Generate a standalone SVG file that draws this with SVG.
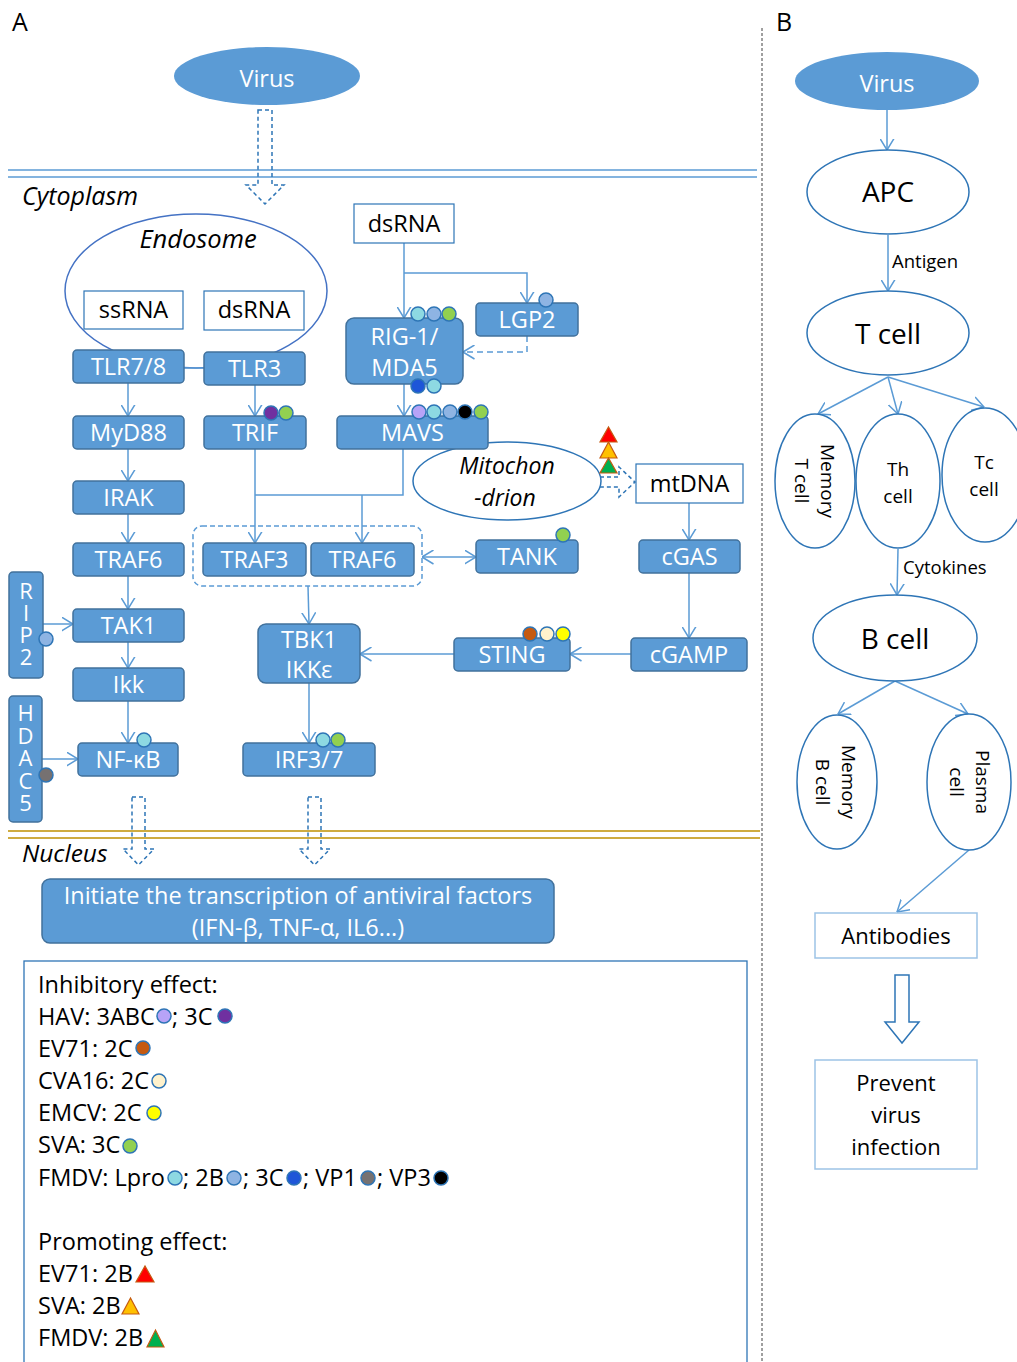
<svg xmlns="http://www.w3.org/2000/svg" width="1017" height="1362" viewBox="0 0 1017 1362">
<defs>
<style>
text{font-family:"Open Sans","Noto Sans",sans-serif;}
.n rect{fill:#5B9BD5;stroke:#41719C;stroke-width:1.5;}
.n text,.wt{fill:#fff;font-size:23.5px;text-anchor:middle;}
.vt{fill:#fff;font-size:22px;writing-mode:vertical-rl;text-orientation:upright;}
.w rect{fill:#fff;stroke:#2E75B6;stroke-width:1.2;}
.w text{fill:#000;font-size:23.5px;text-anchor:middle;}
.c{stroke:#5B9BD5;stroke-width:1.5;fill:none;}
.a{marker-end:url(#ah);}
.hol{fill:none;stroke:#2E75B6;stroke-width:1.5;stroke-dasharray:4 3;}
.d{stroke:#2E75B6;stroke-width:1.5;}
.el{fill:#fff;stroke:#2E75B6;stroke-width:1.5;}
.bt{fill:#000;text-anchor:middle;}
.lg{fill:#000;font-size:23.5px;}
.it{font-style:italic;fill:#000;}
.tri{stroke:#C55A11;stroke-width:1.2;}
</style>
<marker id="ah" viewBox="0 0 12 15" refX="11.5" refY="7.5" markerWidth="12" markerHeight="15" markerUnits="userSpaceOnUse" orient="auto-start-reverse">
<path d="M0,0.5 L11.5,7.5 L0,14.5" fill="none" stroke="#5B9BD5" stroke-width="1.5"/>
</marker>
</defs>
<rect width="1017" height="1362" fill="#fff"/>

<!-- Panel labels and compartments -->
<text x="12" y="31" font-size="25" fill="#000">A</text>
<text x="776" y="31" font-size="25" fill="#000">B</text>
<line x1="762" y1="28" x2="762" y2="1362" stroke="#404040" stroke-width="1" stroke-dasharray="3 2"/>
<line x1="8" y1="170" x2="757" y2="170" stroke="#5B9BD5" stroke-width="1.5"/>
<line x1="8" y1="177" x2="757" y2="177" stroke="#5B9BD5" stroke-width="1.5"/>
<line x1="8" y1="831" x2="760" y2="831" stroke="#BF9000" stroke-width="1.5"/>
<line x1="8" y1="838" x2="760" y2="838" stroke="#BF9000" stroke-width="1.5"/>
<text class="it" x="22" y="205" font-size="25">Cytoplasm</text>
<text class="it" x="22" y="862" font-size="24.5">Nucleus</text>

<!-- Endosome -->
<g id="endosome">
<ellipse cx="196" cy="291" rx="131" ry="77" fill="none" stroke="#4472C4" stroke-width="1.5"/>
<text class="it" x="198" y="248" font-size="25.5" text-anchor="middle">Endosome</text>
</g>

<!-- Virus A -->
<g id="virusA">
<ellipse cx="267" cy="76" rx="93" ry="29" fill="#5B9BD5"/>
<text class="wt" x="267" y="87" font-size="30">Virus</text>
</g>

<!-- hollow dashed arrows -->
<g id="hollow-arrows">
<path class="hol" d="M258,110 L272,110 L272,185 L284,185 L265,204 L246,185 L258,185 Z"/>
<path class="hol" d="M132,797 L145,797 L145,849 L154,849 L138.5,865 L123,849 L132,849 Z"/>
<path class="hol" d="M308,797 L321,797 L321,849 L330,849 L314.5,865 L299,849 L308,849 Z"/>
<path class="hol" d="M593,477 L619,477 L619,467 L635,482 L619,497 L619,487 L593,487 Z"/>
<path d="M895,975 L909,975 L909,1022 L919,1022 L902,1043 L885,1022 L895,1022 Z" fill="none" stroke="#2E75B6" stroke-width="1.5"/>
</g>

<!-- Connectors -->
<g id="connectors">
<path class="c a" d="M128,383 L128,416"/>
<path class="c a" d="M128,449 L128,481"/>
<path class="c a" d="M128,514 L128,543"/>
<path class="c a" d="M128,576 L128,609"/>
<path class="c a" d="M128,642 L128,668"/>
<path class="c a" d="M128,701 L128,743"/>
<path class="c a" d="M43,624 L73,624"/>
<path class="c a" d="M42,759 L78,759"/>
<path class="c" d="M184,368 L204,368"/>
<path class="c a" d="M255,385 L255,416"/>
<path class="c a" d="M255,449 L255,543"/>
<path class="c" d="M403,449 L403,495 L255,495"/>
<path class="c a" d="M362,495 L362,543"/>
<path class="c a" d="M404,243 L404,318"/>
<path class="c a" d="M404,273 L527,273 L527,303"/>
<path class="c a" d="M527,336 L527,352 L463,352" stroke-dasharray="6 4"/>
<path class="c a" d="M404,384 L404,416"/>
<path class="c a" d="M422,557 L476,557" marker-start="url(#ah)"/>
<path class="c a" d="M308,586 L309,624"/>
<path class="c a" d="M454,654 L360,654"/>
<path class="c a" d="M631,654 L570,654"/>
<path class="c a" d="M689,503 L689,540"/>
<path class="c a" d="M689,573 L689,638"/>
<path class="c a" d="M309,683 L309,743"/>
<rect x="193" y="526" width="229" height="60" rx="9" fill="none" stroke="#5B9BD5" stroke-width="1.5" stroke-dasharray="5 3"/>
<!-- panel B -->
<path class="c a" d="M887,110 L887,150"/>
<path class="c a" d="M888,235 L888,291"/>
<path class="c a" d="M888,377 L818,414"/>
<path class="c a" d="M888,377 L898,414"/>
<path class="c a" d="M888,377 L984,407"/>
<path class="c a" d="M898,549 L897,595"/>
<path class="c a" d="M895,681 L838,714"/>
<path class="c a" d="M895,681 L968,714"/>
<path class="c a" d="M969,850 L897,912"/>
<text x="892" y="268" font-size="18.5" fill="#000">Antigen</text>
<text x="903" y="574" font-size="18.5" fill="#000">Cytokines</text>
</g>

<!-- White boxes -->
<g id="ssRNA" class="w"><rect x="84" y="291" width="99" height="38"/><text x="133.5" y="318">ssRNA</text></g>
<g id="dsRNA-endo" class="w"><rect x="204" y="291" width="100" height="39"/><text x="254" y="318">dsRNA</text></g>
<g id="dsRNA" class="w"><rect x="354" y="204" width="100" height="39"/><text x="404" y="232">dsRNA</text></g>
<g id="mtDNA" class="w"><rect x="636" y="464" width="107" height="39"/><text x="689.5" y="492">mtDNA</text></g>

<!-- Mitochondrion -->
<g id="mitochondrion">
<ellipse class="el" cx="507" cy="481" rx="94" ry="39"/>
<text class="it" x="507" y="474" font-size="23" text-anchor="middle">Mitochon</text>
<text class="it" x="505" y="506" font-size="23" text-anchor="middle">-drion</text>
</g>

<!-- Blue nodes -->
<g id="TLR78" class="n"><rect x="73" y="350" width="111" height="33" rx="4"/><text x="128.5" y="375">TLR7/8</text></g>
<g id="TLR3" class="n"><rect x="204" y="352" width="101" height="33" rx="4"/><text x="254.5" y="377">TLR3</text></g>
<g id="MyD88" class="n"><rect x="73" y="416" width="111" height="33" rx="4"/><text x="128.5" y="441">MyD88</text></g>
<g id="TRIF" class="n"><rect x="204" y="416" width="102" height="33" rx="4"/><text x="255" y="441">TRIF</text></g>
<g id="IRAK" class="n"><rect x="73" y="481" width="111" height="33" rx="4"/><text x="128.5" y="506">IRAK</text></g>
<g id="TRAF6a" class="n"><rect x="73" y="543" width="111" height="33" rx="4"/><text x="128.5" y="568">TRAF6</text></g>
<g id="TAK1" class="n"><rect x="73" y="609" width="111" height="33" rx="4"/><text x="128.5" y="634">TAK1</text></g>
<g id="Ikk" class="n"><rect x="73" y="668" width="111" height="33" rx="4"/><text x="128.5" y="693">Ikk</text></g>
<g id="NFkB" class="n"><rect x="78" y="743" width="100" height="33" rx="4"/><text x="128" y="768">NF-κB</text></g>
<g id="RIP2"><rect x="9" y="572" width="34" height="106" rx="4" fill="#5B9BD5" stroke="#41719C" stroke-width="1.5"/><text class="vt" x="26" y="575" letter-spacing="-8">RIP2</text></g>
<g id="HDAC5"><rect x="9" y="696" width="33" height="126" rx="4" fill="#5B9BD5" stroke="#41719C" stroke-width="1.5"/><text class="vt" x="25.5" y="697" letter-spacing="-7.5">HDAC5</text></g>
<g id="TRAF3" class="n"><rect x="203" y="543" width="103" height="33" rx="4"/><text x="254.5" y="568">TRAF3</text></g>
<g id="TRAF6b" class="n"><rect x="311" y="543" width="103" height="33" rx="4"/><text x="362.5" y="568">TRAF6</text></g>
<g id="TBK1" class="n"><rect x="258" y="624" width="102" height="59" rx="8"/><text x="309" y="648">TBK1</text><text x="309" y="678">IKKε</text></g>
<g id="IRF37" class="n"><rect x="243" y="743" width="132" height="33" rx="4"/><text x="309" y="768">IRF3/7</text></g>
<g id="RIG1" class="n"><rect x="346" y="318" width="117" height="66" rx="8"/><text x="404.5" y="345">RIG-1/</text><text x="404.5" y="376">MDA5</text></g>
<g id="LGP2" class="n"><rect x="476" y="303" width="102" height="33" rx="4"/><text x="527" y="328">LGP2</text></g>
<g id="MAVS" class="n"><rect x="337" y="416" width="151" height="33" rx="4"/><text x="412.5" y="441">MAVS</text></g>
<g id="TANK" class="n"><rect x="476" y="540" width="102" height="33" rx="4"/><text x="527" y="565">TANK</text></g>
<g id="cGAS" class="n"><rect x="639" y="540" width="101" height="33" rx="4"/><text x="689.5" y="565">cGAS</text></g>
<g id="cGAMP" class="n"><rect x="631" y="638" width="116" height="33" rx="4"/><text x="689" y="663">cGAMP</text></g>
<g id="STING" class="n"><rect x="454" y="638" width="116" height="33" rx="4"/><text x="512" y="663">STING</text></g>
<g id="transcription" class="n"><rect x="42" y="879" width="512" height="64" rx="8"/><text x="298" y="904" font-size="22.5">Initiate the transcription of antiviral factors</text><text x="298" y="936" font-size="22.5">(IFN-β, TNF-α, IL6...)</text></g>

<!-- Viral protein markers -->
<g id="markers">
<circle class="d" cx="418" cy="314" r="7" fill="#8DD9E2"/>
<circle class="d" cx="434" cy="314" r="7" fill="#8EB4E3"/>
<circle class="d" cx="449" cy="314" r="7" fill="#92D050"/>
<circle class="d" cx="418" cy="386" r="7" fill="#1E56D8"/>
<circle class="d" cx="434" cy="386" r="7" fill="#8DD9E2"/>
<circle class="d" cx="546" cy="300" r="7" fill="#8EB4E3"/>
<circle class="d" cx="419" cy="412" r="7" fill="#B7A3F7"/>
<circle class="d" cx="434" cy="412" r="7" fill="#8DD9E2"/>
<circle class="d" cx="450" cy="412" r="7" fill="#8EB4E3"/>
<circle class="d" cx="465" cy="412" r="7" fill="#000"/>
<circle class="d" cx="481" cy="412" r="7" fill="#92D050"/>
<circle class="d" cx="271" cy="413" r="7" fill="#7030A0"/>
<circle class="d" cx="286" cy="413" r="7" fill="#92D050"/>
<circle class="d" cx="563" cy="535" r="7" fill="#92D050"/>
<circle class="d" cx="530" cy="634" r="7" fill="#C55A11"/>
<circle class="d" cx="547" cy="634" r="7" fill="#FFF2CC"/>
<circle class="d" cx="563" cy="634" r="7" fill="#FFFF00"/>
<circle class="d" cx="323" cy="740" r="7" fill="#8DD9E2"/>
<circle class="d" cx="338" cy="740" r="7" fill="#92D050"/>
<circle class="d" cx="144" cy="740" r="7" fill="#8DD9E2"/>
<circle class="d" cx="46" cy="639" r="7" fill="#8EB4E3"/>
<circle class="d" cx="46" cy="775" r="7" fill="#767171"/>
<polygon class="tri" points="600,442 617,442 608.5,427" fill="#FF0000"/>
<polygon class="tri" points="600,458 617,458 608.5,442" fill="#FFC000"/>
<polygon class="tri" points="600,473 617,473 608.5,458" fill="#00B050"/>
</g>

<!-- Legend -->
<g id="legend">
<rect x="24" y="961" width="723" height="412" fill="#fff" stroke="#2E75B6" stroke-width="1.3"/>
<text class="lg" x="38" y="993">Inhibitory effect:</text>
<text class="lg" x="38" y="1025">HAV: 3ABC</text><circle class="d" cx="164" cy="1016" r="7" fill="#B7A3F7"/>
<text class="lg" x="172" y="1025">; 3C</text><circle class="d" cx="225" cy="1016" r="7" fill="#7030A0"/>
<text class="lg" x="38" y="1057">EV71: 2C</text><circle class="d" cx="143" cy="1048" r="7" fill="#C55A11"/>
<text class="lg" x="38" y="1089">CVA16: 2C</text><circle class="d" cx="159" cy="1081" r="7" fill="#FFF2CC"/>
<text class="lg" x="38" y="1121">EMCV: 2C</text><circle class="d" cx="154" cy="1113" r="7" fill="#FFFF00"/>
<text class="lg" x="38" y="1153">SVA: 3C</text><circle class="d" cx="130" cy="1146" r="7" fill="#92D050"/>
<text class="lg" x="38" y="1186">FMDV: Lpro</text><circle class="d" cx="175" cy="1178" r="7" fill="#8DD9E2"/>
<text class="lg" x="183" y="1186">; 2B</text><circle class="d" cx="234" cy="1178" r="7" fill="#8EB4E3"/>
<text class="lg" x="243" y="1186">; 3C</text><circle class="d" cx="294" cy="1178" r="7" fill="#1E56D8"/>
<text class="lg" x="303" y="1186">; VP1</text><circle class="d" cx="368" cy="1178" r="7" fill="#767171"/>
<text class="lg" x="377" y="1186">; VP3</text><circle class="d" cx="441" cy="1178" r="7" fill="#000"/>
<text class="lg" x="38" y="1250">Promoting effect:</text>
<text class="lg" x="38" y="1282">EV71: 2B</text><polygon class="tri" points="136,1282 154,1282 145,1266" fill="#FF0000"/>
<text class="lg" x="38" y="1314">SVA: 2B</text><polygon class="tri" points="122,1314 139,1314 130.5,1298" fill="#FFC000"/>
<text class="lg" x="38" y="1346">FMDV: 2B</text><polygon class="tri" points="147,1347 164,1347 155.5,1330" fill="#00B050"/>
</g>

<!-- Panel B nodes -->
<g id="virusB"><ellipse cx="887" cy="81" rx="92" ry="29" fill="#5B9BD5"/><text class="wt" x="887" y="92" font-size="30">Virus</text></g>
<g id="APC"><ellipse class="el" cx="888" cy="192" rx="81" ry="42"/><text class="bt" x="888" y="202" font-size="28">APC</text></g>
<g id="Tcell"><ellipse class="el" cx="888" cy="333" rx="81" ry="42"/><text class="bt" x="888" y="344" font-size="28">T cell</text></g>
<g id="MemoryT"><ellipse class="el" cx="815" cy="481" rx="40" ry="67"/><g transform="rotate(90 815 481)"><text class="bt" x="815" y="475" font-size="19">Memory</text><text class="bt" x="815" y="501" font-size="19">T cell</text></g></g>
<g id="Thcell"><ellipse class="el" cx="898" cy="481" rx="42" ry="67"/><text class="bt" x="898" y="476" font-size="19">Th</text><text class="bt" x="898" y="503" font-size="19">cell</text></g>
<g id="Tccell"><ellipse class="el" cx="985" cy="475" rx="43" ry="67"/><text class="bt" x="984" y="469" font-size="19">Tc</text><text class="bt" x="984" y="496" font-size="19">cell</text></g>
<g id="Bcell"><ellipse class="el" cx="895" cy="638" rx="82" ry="43"/><text class="bt" x="895" y="649" font-size="28">B cell</text></g>
<g id="MemoryB"><ellipse class="el" cx="837" cy="782" rx="40" ry="67"/><g transform="rotate(90 837 782)"><text class="bt" x="837" y="777" font-size="19">Memory</text><text class="bt" x="837" y="803" font-size="19">B cell</text></g></g>
<g id="Plasma"><ellipse class="el" cx="969" cy="782" rx="42" ry="68"/><g transform="rotate(90 969 782)"><text class="bt" x="969" y="775" font-size="19">Plasma</text><text class="bt" x="969" y="801" font-size="19">cell</text></g></g>
<g id="Antibodies"><rect x="815" y="913" width="162" height="45" fill="#fff" stroke="#9DC3E6" stroke-width="1.5"/><text class="bt" x="896" y="944" font-size="22">Antibodies</text></g>
<g id="Prevent"><rect x="815" y="1060" width="162" height="109" fill="#fff" stroke="#9DC3E6" stroke-width="1.5"/><text class="bt" x="896" y="1091" font-size="22">Prevent</text><text class="bt" x="896" y="1123" font-size="22">virus</text><text class="bt" x="896" y="1155" font-size="22">infection</text></g>
</svg>
